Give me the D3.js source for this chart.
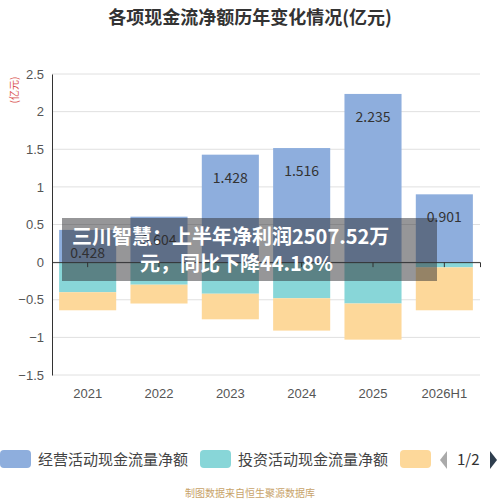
<!DOCTYPE html>
<html><head><meta charset="utf-8">
<script src="https://cdn.jsdelivr.net/npm/d3@7"></script>
<style>body{margin:0;background:#fff}svg{font-family:"Noto Sans CJK SC","Noto Sans",sans-serif}</style>
</head><body><svg width="500" height="500"></svg>
<script>
const categories = ["2021", "2022", "2023", "2024", "2025", "2026H1"];
const operating = [0.428, 0.604, 1.428, 1.516, 2.235, 0.901];
const investing = [-0.40, -0.30, -0.42, -0.48, -0.55, -0.07];
const financing = [-0.24, -0.25, -0.34, -0.43, -0.48, -0.57];
const yTicks = [2.5, 2, 1.5, 1, 0.5, 0, -0.5, -1, -1.5];
const colors = ["#8eaedd", "#88d6d8", "#fdd89a"];
const legendNames = ["经营活动现金流量净额", "投资活动现金流量净额"];

const svg = d3.select("svg");
const x = d3.scaleBand().domain(categories).range([52, 480]).paddingInner(0.2).paddingOuter(0.1);
const y = d3.scaleLinear().domain([-1.5, 2.5]).range([375, 74]);

svg.append("text").attr("x", 250).attr("y", 24).attr("text-anchor", "middle")
  .attr("font-size", 18).attr("font-weight", "bold").attr("fill", "#333").text("各项现金流净额历年变化情况(亿元)");

svg.append("g").selectAll("line").data(yTicks).join("line")
  .attr("x1", 52).attr("x2", 480).attr("y1", d => y(d)).attr("y2", d => y(d))
  .attr("stroke", "#e0e0e0");

svg.append("g").attr("transform", "translate(52,0)")
  .call(d3.axisLeft(y).tickValues(yTicks).tickSize(0).tickPadding(8).tickFormat(d3.format("")))
  .call(g => g.select(".domain").attr("stroke", "#333"))
  .call(g => g.selectAll("text").attr("font-size", 13).attr("fill", "#555"));

svg.append("text").attr("transform", "translate(18,90) rotate(-90)").attr("text-anchor", "middle")
  .attr("font-size", 10).attr("fill", "#d9534f").text("(亿元)");

const bw = x.bandwidth();
svg.append("g").selectAll("rect").data(categories).join("rect")
  .attr("x", d => x(d)).attr("width", bw)
  .attr("y", (d, i) => y(operating[i])).attr("height", (d, i) => y(0) - y(operating[i]))
  .attr("fill", colors[0]);
svg.append("g").selectAll("rect").data(categories).join("rect")
  .attr("x", d => x(d)).attr("width", bw)
  .attr("y", y(0)).attr("height", (d, i) => y(investing[i]) - y(0))
  .attr("fill", colors[1]);
svg.append("g").selectAll("rect").data(categories).join("rect")
  .attr("x", d => x(d)).attr("width", bw)
  .attr("y", (d, i) => y(investing[i])).attr("height", (d, i) => y(investing[i] + financing[i]) - y(investing[i]))
  .attr("fill", colors[2]);

svg.append("g").selectAll("text").data(categories).join("text")
  .attr("x", d => x(d) + bw / 2).attr("y", (d, i) => y(operating[i]) + 28)
  .attr("text-anchor", "middle").attr("font-size", 14).attr("fill", "#333")
  .text((d, i) => operating[i]);

svg.append("g").attr("transform", `translate(0,${y(0)})`)
  .call(d3.axisBottom(x).tickSize(5).tickFormat(""))
  .call(g => g.selectAll("line,path").attr("stroke", "#333"));
svg.append("g").attr("transform", "translate(0,375)")
  .call(d3.axisBottom(x).tickSize(0).tickPadding(14))
  .call(g => g.select(".domain").remove())
  .call(g => g.selectAll("text").attr("font-size", 13).attr("fill", "#555"));

// banner overlay
svg.append("rect").attr("x", 62).attr("y", 218).attr("width", 375).attr("height", 63)
  .attr("fill", "rgba(45,45,50,0.5)");
svg.append("text").attr("x", 72).attr("y", 244).attr("font-size", 20).attr("font-weight", "bold")
  .attr("fill", "#fff").text("三川智慧：上半年净利润2507.52万");
svg.append("text").attr("x", 140).attr("y", 271).attr("font-size", 20).attr("font-weight", "bold")
  .attr("fill", "#fff").text("元，同比下降44.18%");

// legend
const lg = svg.append("g");
[0, 1, 2].forEach(i => {
  const lx = [0, 200, 400][i];
  lg.append("rect").attr("x", lx).attr("y", 450).attr("width", 31).attr("height", 18).attr("rx", 4).attr("fill", colors[i]);
  if (legendNames[i]) lg.append("text").attr("x", lx + 38).attr("y", 465).attr("font-size", 15).attr("fill", "#444").text(legendNames[i]);
});
lg.append("path").attr("d", "M447,451 L440,460 L447,469Z").attr("fill", "#aaa");
lg.append("text").attr("x", 457).attr("y", 465).attr("font-size", 15).attr("fill", "#333").text("1/2");
lg.append("path").attr("d", "M490,451 L497,460 L490,469Z").attr("fill", "#2f3e4e");

svg.append("text").attr("x", 250).attr("y", 497).attr("text-anchor", "middle").attr("font-size", 10)
  .attr("fill", "#c8a36a").text("制图数据来自恒生聚源数据库");
</script></body></html>
